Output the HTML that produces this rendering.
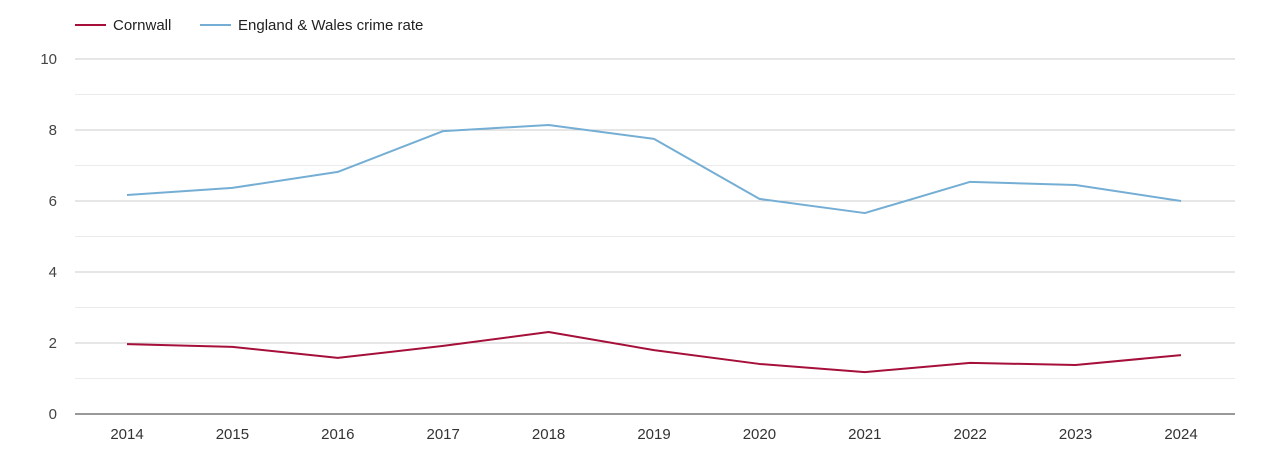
<!DOCTYPE html>
<html><head><meta charset="utf-8"><style>
body{margin:0;background:#fff;font-family:"Liberation Sans",Arial,sans-serif}
svg text{font-family:"Liberation Sans",Arial,sans-serif}
</style></head><body>
<svg id="chart" width="1270" height="450" xmlns="http://www.w3.org/2000/svg">
<g id="legend">
<g><line x1="75" y1="25" x2="106" y2="25" stroke="#a50f3a" stroke-width="2"/><text x="113" y="30" font-size="15" fill="#222">Cornwall</text></g>
<g><line x1="200" y1="25" x2="231" y2="25" stroke="#75aed4" stroke-width="2"/><text x="238" y="30" font-size="15" fill="#222">England &amp; Wales crime rate</text></g>
</g>
<g id="grid"></g>
<g id="axes"></g>
<g id="series"></g>
</svg>
<script>
const years=["2014","2015","2016","2017","2018","2019","2020","2021","2022","2023","2024"];
const cornwall=[1.97,1.89,1.58,1.92,2.31,1.80,1.41,1.18,1.44,1.38,1.66];
const englandWales=[6.17,6.37,6.82,7.97,8.14,7.75,6.06,5.66,6.54,6.45,6.0];
const yTicks=[0,2,4,6,8,10];
const NS="http://www.w3.org/2000/svg";
const L=75,R=1235,T=59,B=414,yMax=10;
const x=i=>127+i*(1181-127)/(years.length-1);
const y=v=>B-(v/yMax)*(B-T);
function mk(tag,attrs,parent){const e=document.createElementNS(NS,tag);for(const k in attrs)e.setAttribute(k,attrs[k]);parent.appendChild(e);return e;}
const grid=document.getElementById('grid'),axes=document.getElementById('axes'),series=document.getElementById('series');
for(let v=1;v<yMax;v+=2){const l=mk('line',{x1:L,x2:R,y1:y(v),y2:y(v),stroke:'#ebebeb','stroke-width':1},grid);

}
yTicks.forEach(v=>{
 if(v>0){const l=mk('line',{x1:L,x2:R,y1:y(v),y2:y(v),stroke:'#cccccc','stroke-width':1},grid);
 
 }
 const t=mk('text',{x:57,y:y(v)+5,'text-anchor':'end','font-size':15,fill:'#444'},axes);t.textContent=v;
 
 
});
const xa=mk('line',{x1:L,x2:R,y1:B,y2:B,stroke:'#333','stroke-width':1},axes);


years.forEach((yr,i)=>{const t=mk('text',{x:x(i),y:439,'text-anchor':'middle','font-size':15,fill:'#333'},axes);t.textContent=yr;

});
function line(vals,color,name){const p=mk('polyline',{points:vals.map((v,i)=>x(i)+','+y(v)).join(' '),fill:'none',stroke:color,'stroke-width':2,'stroke-linejoin':'round'},series);

}
line(englandWales,'#75aed4','england-wales-line');
line(cornwall,'#a50f3a','cornwall-line');
</script>
</body></html>
